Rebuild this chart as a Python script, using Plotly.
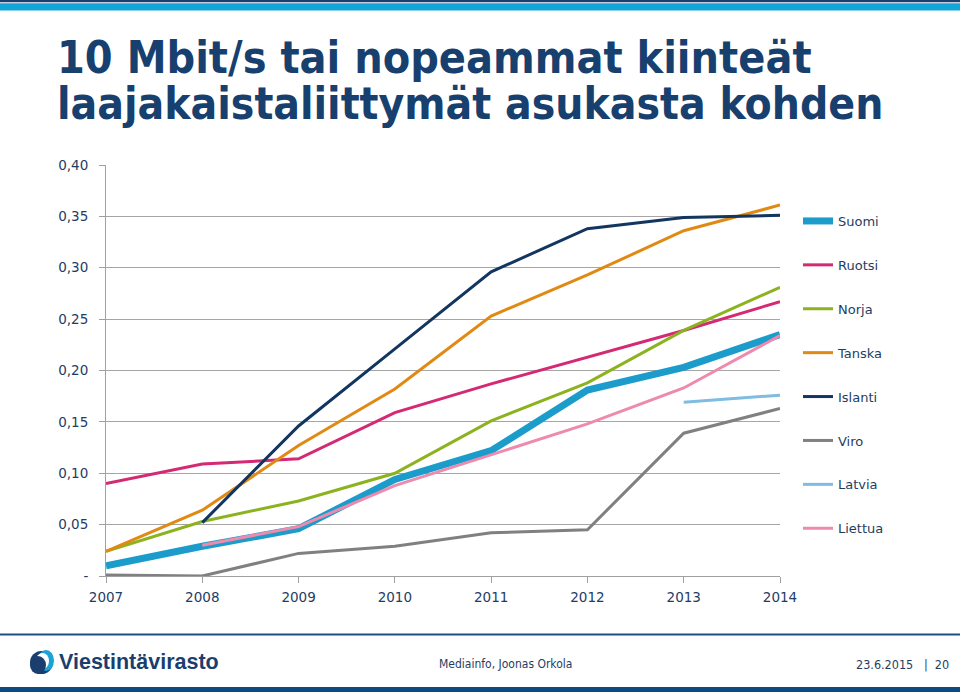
import plotly.graph_objects as go

years = [2007, 2008, 2009, 2010, 2011, 2012, 2013, 2014]
suomi   = [0.010, 0.029, 0.046, 0.094, 0.122, 0.181, 0.203, 0.235]
ruotsi  = [0.090, 0.109, 0.114, 0.159, 0.187, 0.213, 0.239, 0.267]
norja   = [0.024, 0.053, 0.073, 0.100, 0.151, 0.188, 0.239, 0.281]
tanska  = [0.024, 0.064, 0.127, 0.182, 0.253, 0.293, 0.336, 0.361]
islanti = [None, 0.052, 0.146, 0.221, 0.296, 0.338, 0.349, 0.351]
viro    = [0.001, 0.000, 0.022, 0.029, 0.042, 0.045, 0.139, 0.163]
latvia  = [None, None, None, None, None, None, 0.169, 0.176]
liettua = [None, 0.030, 0.048, 0.088, 0.118, 0.148, 0.183, 0.234]

series_names = ["Suomi", "Ruotsi", "Norja", "Tanska", "Islanti", "Viro", "Latvia", "Liettua"]
series_values = [suomi, ruotsi, norja, tanska, islanti, viro, latvia, liettua]
colors = ["#1B9CCB", "#D42A73", "#8CB31F", "#E08A14", "#12365F", "#808080", "#7FBDE0", "#EE8AAE"]
widths = [7, 3, 3, 3, 3, 3, 3, 3]

y_tickvals = [0, 0.05, 0.10, 0.15, 0.20, 0.25, 0.30, 0.35, 0.40]
y_ticktext = ["-", "0,05", "0,10", "0,15", "0,20", "0,25", "0,30", "0,35", "0,40"]

TXT = "#1F3D63"
NAVY = "#17406F"

# plot area in pixels
L, R, T, B = 106, 780, 165, 576
W, H = 960, 692


def px_x(p):
    return (p - L) / (R - L)


def px_y(p):
    return (B - p) / (B - T)


fig = go.Figure()
for i, (name, vals, c, w) in enumerate(zip(series_names, series_values, colors, widths)):
    fig.add_trace(go.Scatter(
        x=years, y=vals, name=name, mode="lines",
        line=dict(color=c, width=w), connectgaps=False,
        legendgroup=f"g{i}",
    ))

shapes = []
# top stripes
shapes.append(dict(type="rect", xref="paper", yref="paper", x0=px_x(0), x1=px_x(W),
                   y0=px_y(2.3), y1=px_y(0), fillcolor="#1C3F72", line_width=0, layer="below"))
shapes.append(dict(type="rect", xref="paper", yref="paper", x0=px_x(0), x1=px_x(W),
                   y0=px_y(10.5), y1=px_y(3.3), fillcolor="#12A5D8", line_width=0, layer="below"))
# footer lines
shapes.append(dict(type="rect", xref="paper", yref="paper", x0=px_x(0), x1=px_x(W),
                   y0=px_y(635.5), y1=px_y(633.5), fillcolor="#1C4F86", line_width=0, layer="below"))
shapes.append(dict(type="rect", xref="paper", yref="paper", x0=px_x(0), x1=px_x(W),
                   y0=px_y(692), y1=px_y(687), fillcolor="#0E4A82", line_width=0, layer="below"))
# logo globe
shapes.append(dict(type="circle", xref="paper", yref="paper", x0=px_x(30), x1=px_x(53),
                   y0=px_y(674), y1=px_y(651), fillcolor="#1A3E6E", line_width=0))
shapes.append(dict(type="circle", xref="paper", yref="paper", x0=px_x(38), x1=px_x(54),
                   y0=px_y(671), y1=px_y(650), fillcolor="#1BA3D6", line_width=0))
shapes.append(dict(type="circle", xref="paper", yref="paper", x0=px_x(36), x1=px_x(49),
                   y0=px_y(669), y1=px_y(653), fillcolor="white", line_width=0))
shapes.append(dict(type="circle", xref="paper", yref="paper", x0=px_x(30), x1=px_x(46),
                   y0=px_y(674), y1=px_y(656), fillcolor="#1A3E6E", line_width=0))

TITLE_FONT = "DejaVu Sans Condensed, Liberation Sans Narrow, DejaVu Sans"
annotations = [
    dict(text="<b>10 Mbit/s tai nopeammat kiinteät</b>", x=px_x(55), y=px_y(85),
         xref="paper", yref="paper", xanchor="left", yanchor="bottom", showarrow=False,
         font=dict(family=TITLE_FONT, size=44.5, color=NAVY)),
    dict(text="<b>laajakaistaliittymät asukasta kohden</b>", x=px_x(55), y=px_y(131),
         xref="paper", yref="paper", xanchor="left", yanchor="bottom", showarrow=False,
         font=dict(family=TITLE_FONT, size=44, color=NAVY)),
    dict(text="<b>Viestintävirasto</b>", x=px_x(57), y=px_y(662),
         xref="paper", yref="paper", xanchor="left", yanchor="middle", showarrow=False,
         font=dict(family="Liberation Sans, Arial", size=21.5, color="#1A3E6E")),
    dict(text="Mediainfo, Joonas Orkola", x=px_x(437), y=px_y(664),
         xref="paper", yref="paper", xanchor="left", yanchor="middle", showarrow=False,
         font=dict(family="DejaVu Sans Condensed, Liberation Sans Narrow", size=12, color=TXT)),
    dict(text="23.6.2015   |  20", x=px_x(951), y=px_y(664),
         xref="paper", yref="paper", xanchor="right", yanchor="middle", showarrow=False,
         font=dict(family="DejaVu Sans Condensed, Liberation Sans Narrow", size=12.5, color=TXT)),
]

fig.update_layout(
    width=W, height=H,
    margin=dict(l=L, r=W - R, t=T, b=H - B, pad=0),
    paper_bgcolor="white", plot_bgcolor="white",
    font=dict(family="DejaVu Sans, Verdana", size=13.5, color=TXT),
    xaxis=dict(range=[2007, 2014], tickvals=years, ticktext=[str(y) for y in years],
               showgrid=False, zeroline=False, showline=True, linecolor="#A0A0A0", linewidth=1,
               ticks="outside", ticklen=6, tickcolor="#A0A0A0", ticklabelstandoff=3,
               tickfont=dict(size=13.5, color=TXT)),
    yaxis=dict(range=[0, 0.40], tickvals=y_tickvals, ticktext=y_ticktext,
               showgrid=True, gridcolor="#A6A6A6", gridwidth=1, zeroline=False,
               showline=True, linecolor="#A0A0A0", linewidth=1,
               ticks="outside", ticklen=6, tickcolor="#A0A0A0", ticklabelstandoff=8,
               tickfont=dict(size=13.5, color=TXT)),
    legend=dict(x=px_x(798), y=px_y(206), xanchor="left", yanchor="top",
                font=dict(size=13, color=TXT), tracegroupgap=24, itemwidth=30,
                bgcolor="rgba(0,0,0,0)"),
    shapes=shapes,
    annotations=annotations,
)

fig.write_html("out.html")
